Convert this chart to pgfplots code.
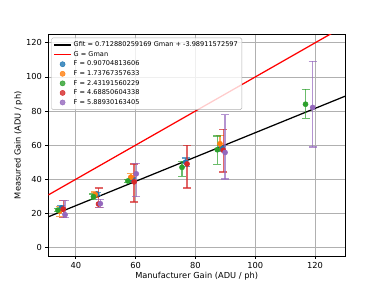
\documentclass[border=0pt]{standalone}
\usepackage{fontspec}
\setmainfont{DejaVu Sans}
\usepackage{pgfplots}
\pgfplotsset{compat=1.18}
\usepackage{pgfplotstable}
\definecolor{tabblue}{HTML}{1F77B4}
\definecolor{taborange}{HTML}{FF7F0E}
\definecolor{tabgreen}{HTML}{2CA02C}
\definecolor{tabred}{HTML}{D62728}
\definecolor{tabpurple}{HTML}{9467BD}
\definecolor{gridgray}{HTML}{B0B0B0}

\pgfplotstableread{
x y ep em
35.2 23.2 1.5 1.5
47.0 31.3 1.0 1.0
58.9 39.5 1.2 1.2
76.7 50.0 2.5 2.5
89.0 58.0 1.5 1.5
}\Fa
\pgfplotstableread{
x y ep em
34.6 21.2 3.0 3.0
46.5 31.0 1.5 1.5
58.4 41.2 2.0 2.0
88.2 60.8 4.7 4.0
}\Fb
\pgfplotstableread{
x y ep em
34.0 21.9 1.0 1.0
45.9 29.8 1.5 1.5
57.4 39.0 1.0 1.0
75.5 47.0 3.5 5.2
87.3 57.3 8.0 8.5
116.8 84.0 8.8 8.2
}\Fc
\pgfplotstableread{
x y ep em
35.8 22.5 5.0 5.0
47.6 25.5 9.3 2.0
59.5 38.5 10.5 11.9
77.2 49.0 10.9 14.1
89.3 57.0 12.2 12.8
}\Fd
\pgfplotstableread{
x y ep em
36.4 19.2 8.3 1.5
48.2 25.7 2.5 2.2
60.2 43.2 5.9 13.5
89.9 55.7 22.1 15.6
119.2 82.1 27.1 23.1
}\Fe

\begin{document}
\begin{tikzpicture}
\path[use as bounding box] (-48.3bp,-32bp) rectangle (335.7bp,256bp);
\begin{axis}[
  at={(0,0)}, anchor=south west,
  scale only axis,
  width=296.7bp, height=221.7bp,
  xmin=30.8, xmax=130, ymin=-5, ymax=125,
  xtick={40,60,80,100,120},
  ytick={0,20,40,60,80,100,120},
  grid=major,
  major grid style={gridgray, line width=0.67bp},
  axis line style={black, line width=0.67bp},
  tick style={black, line width=0.67bp},
  major tick length=2.9bp,
  tick align=outside,
  xtick pos=bottom, ytick pos=left,
  ticklabel style={font=\fontsize{8.3}{10}\selectfont},
  /pgf/number format/assume math mode=true,
  xlabel={Manufacturer Gain (ADU / ph)},
  ylabel={Measured Gain (ADU / ph)},
  label style={font=\fontsize{8.3}{10}\selectfont},
  xlabel style={yshift=3bp},
  ylabel style={yshift=-3bp},
  legend style={at={(0.01,0.985)}, anchor=north west,
    font=\fontsize{6.6}{7.6}\selectfont,
    draw=gray!60, fill=white, fill opacity=0.8, text opacity=1,
    rounded corners=1.5bp, row sep=-0.8bp, inner sep=2bp,
    legend cell align=left},
  error bars/error bar style={line width=1.4bp, opacity=0.7},
  error bars/error mark options={rotate=90, mark size=4bp, line width=1.3bp},
]
\addplot[black, line width=1.25bp] coordinates {(30.8,17.968) (130,88.685)};
\addlegendentry{Gfit = 0.712880259169 Gman + -3.98911572597}
\addplot[red, line width=1.25bp] coordinates {(30.8,30.8) (130,130)};
\addlegendentry{G = Gman}
\addplot[only marks, mark=*, mark size=2.6bp, color=tabblue,
  error bars/.cd, y dir=both, y explicit]
  table[x=x, y=y, y error plus=ep, y error minus=em] {\Fa};
\addlegendentry{F = 0.90704813606}
\addplot[only marks, mark=*, mark size=2.6bp, color=taborange,
  error bars/.cd, y dir=both, y explicit]
  table[x=x, y=y, y error plus=ep, y error minus=em] {\Fb};
\addlegendentry{F = 1.73767357633}
\addplot[only marks, mark=*, mark size=2.6bp, color=tabgreen,
  error bars/.cd, y dir=both, y explicit]
  table[x=x, y=y, y error plus=ep, y error minus=em] {\Fc};
\addlegendentry{F = 2.43191560229}
\addplot[only marks, mark=*, mark size=2.6bp, color=tabred,
  error bars/.cd, y dir=both, y explicit]
  table[x=x, y=y, y error plus=ep, y error minus=em] {\Fd};
\addlegendentry{F = 4.68850604338}
\addplot[only marks, mark=*, mark size=2.6bp, color=tabpurple,
  error bars/.cd, y dir=both, y explicit]
  table[x=x, y=y, y error plus=ep, y error minus=em] {\Fe};
\addlegendentry{F = 5.88930163405}
\end{axis}
\end{tikzpicture}
\end{document}
